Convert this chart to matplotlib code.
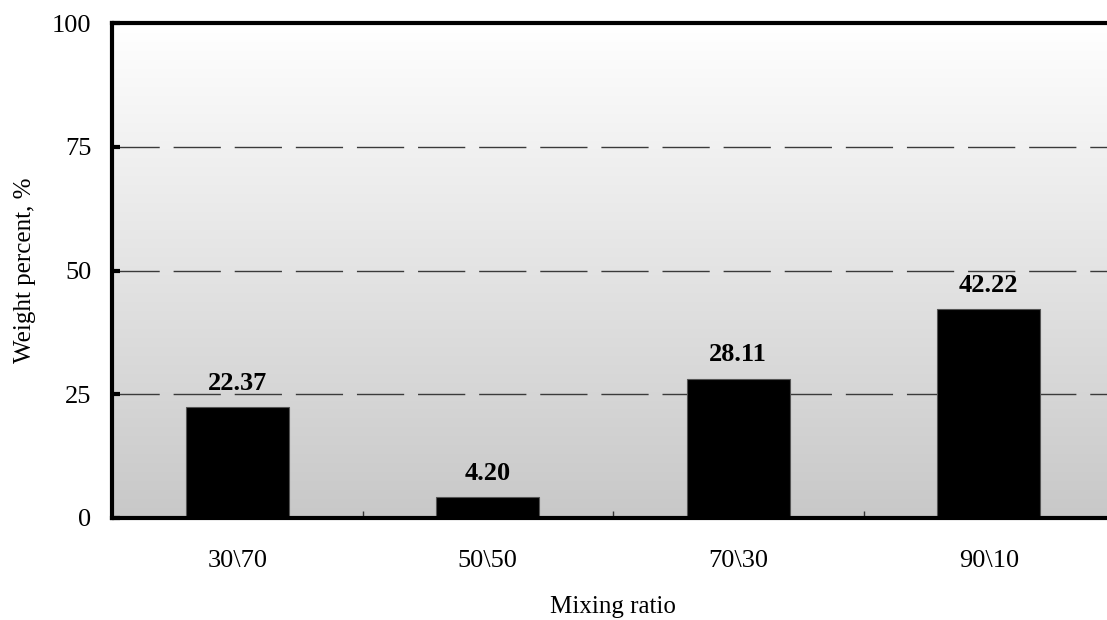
import numpy as np
import matplotlib.pyplot as plt
from matplotlib.colors import LinearSegmentedColormap
from matplotlib.ticker import FixedLocator, NullFormatter

categories = ["30\\70", "50\\50", "70\\30", "90\\10"]
weight_percent = [22.37, 4.20, 28.11, 42.22]
y_ticks = [0, 25, 50, 75, 100]

plt.rcParams['font.family'] = ['Liberation Serif', 'DejaVu Serif']

fig = plt.figure(figsize=(11.07, 6.2), dpi=100)
W, H = 1107, 620
ax = fig.add_axes([112 / W, (H - 518) / H, (1114 - 112) / W, (518 - 23) / H])

# vertical grey gradient behind the plot area
grad = np.linspace(0, 1, 256).reshape(-1, 1)
ax.imshow(grad, extent=[0, 1, 0, 1], transform=ax.transAxes, aspect='auto',
          cmap=LinearSegmentedColormap.from_list('bg', ['#c8c8c8', '#ffffff']),
          origin='lower', zorder=0, interpolation='bilinear')

x = np.arange(len(categories))
ax.bar(x, weight_percent, width=0.41, color='black',
       edgecolor='#555555', linewidth=0.8, zorder=3)

for xi, v in zip(x, weight_percent):
    ax.annotate(f"{v:.2f}", (xi, v), xytext=(0, 9), textcoords='offset points',
                ha='center', va='bottom', fontsize=19, fontweight='bold', zorder=4)

ax.set_xlim(-0.5, len(categories) - 0.5)
ax.set_ylim(0, 100)

for g in [25, 50, 75]:
    ax.axhline(g, color='#3a3a3a', linewidth=1.0, dashes=(34, 10), zorder=1)

ax.set_yticks(y_ticks)
ax.tick_params(axis='y', direction='in', length=6, width=3, labelsize=19, pad=15)
ax.set_xticks(x)
ax.set_xticklabels(categories)
ax.tick_params(axis='x', which='major', length=0, labelsize=19, pad=23)
ax.xaxis.set_minor_locator(FixedLocator([0.5, 1.5, 2.5]))
ax.xaxis.set_minor_formatter(NullFormatter())
ax.tick_params(axis='x', which='minor', direction='in', length=5, width=1,
               color='#333333')

for side in ['top', 'left', 'bottom']:
    ax.spines[side].set_linewidth(3)
    ax.spines[side].set_zorder(5)
ax.spines['right'].set_visible(False)

ax.set_xlabel("Mixing ratio", fontsize=18, labelpad=17)
ax.set_ylabel("Weight percent, %", fontsize=18, labelpad=11)

fig.savefig("out.png", dpi=100)
